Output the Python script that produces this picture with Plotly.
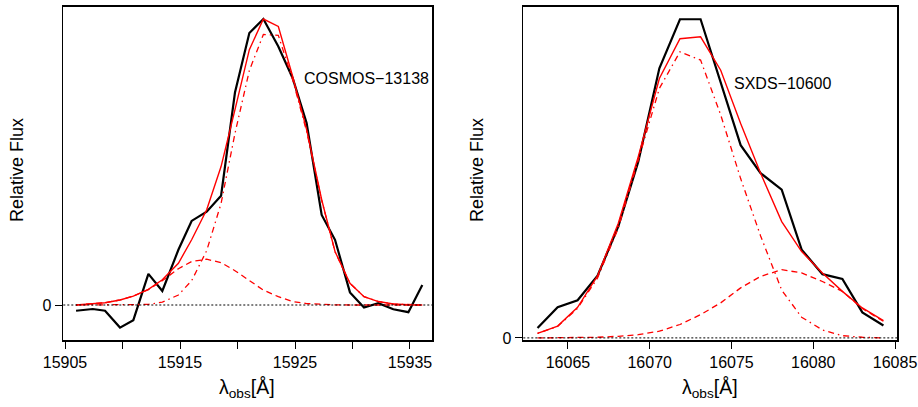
import plotly.graph_objects as go

# ---------------- data: left panel (COSMOS-13138) ----------------
wave_left = [15905.96, 15907.41, 15908.48, 15909.78, 15910.94, 15912.25, 15913.46,
             15914.86, 15916.01, 15917.32, 15918.57, 15919.78, 15921.03, 15922.25,
             15923.55, 15924.80, 15926.01, 15927.32, 15928.48, 15929.78, 15931.00,
             15932.25, 15933.55, 15934.86, 15936.07]
flux_left = [-0.020, -0.014, -0.020, -0.079, -0.053, 0.109, 0.049, 0.193, 0.294, 0.326,
             0.382, 0.743, 0.951, 1.000, 0.904, 0.793, 0.636, 0.315, 0.228, 0.044,
             -0.009, 0.006, -0.015, -0.025, 0.070]
fit_left = [0.0, 0.0035, 0.008, 0.0175, 0.031, 0.055, 0.088, 0.146, 0.228, 0.333,
            0.484, 0.683, 0.893, 1.000, 0.974, 0.799, 0.613, 0.368, 0.187, 0.076,
            0.029, 0.012, 0.0035, 0.001, 0.0]
broad_left = [0.0, 0.0035, 0.008, 0.0175, 0.031, 0.054, 0.085, 0.127, 0.152, 0.160,
              0.148, 0.120, 0.085, 0.052, 0.029, 0.012, 0.005, 0.002, 0.0005, 0.0,
              0.0, 0.0, 0.0, 0.0, 0.0]
narrow_left = [0.0, 0.0, 0.0, 0.0, 0.0, 0.002, 0.010, 0.035, 0.085, 0.190, 0.355,
               0.600, 0.820, 0.946, 0.943, 0.787, 0.607, 0.366, 0.186, 0.076, 0.029,
               0.012, 0.0035, 0.001, 0.0]
ticks_left = [15905, 15910, 15915, 15920, 15925, 15930, 15935]
ticklabels_left = ["15905", "", "15915", "", "15925", "", "15935"]
name_left = "COSMOS\u221213138"

# ---------------- data: right panel (SXDS-10600) ----------------
wave_right = [16063.14, 16064.37, 16065.59, 16066.81, 16068.08, 16069.30, 16070.59,
              16071.85, 16073.11, 16074.34, 16075.56, 16076.78, 16078.07, 16079.29,
              16080.56, 16081.78, 16083.00, 16084.29]
flux_right = [0.031, 0.096, 0.118, 0.195, 0.350, 0.553, 0.846, 1.000, 1.000, 0.799,
              0.605, 0.517, 0.465, 0.277, 0.200, 0.185, 0.080, 0.039]
fit_right = [0.014, 0.037, 0.096, 0.195, 0.360, 0.569, 0.814, 0.939, 0.945, 0.840,
             0.673, 0.517, 0.365, 0.271, 0.204, 0.146, 0.094, 0.054]
broad_right = [0.0, 0.0, 0.001, 0.002, 0.005, 0.010, 0.021, 0.042, 0.073, 0.110,
               0.157, 0.193, 0.214, 0.204, 0.177, 0.146, 0.092, 0.052]
narrow_right = [0.014, 0.036, 0.093, 0.188, 0.345, 0.560, 0.783, 0.898, 0.872, 0.700,
                0.500, 0.320, 0.150, 0.065, 0.025, 0.007, 0.002, 0.0]
ticks_right = [16065, 16070, 16075, 16080, 16085]
ticklabels_right = ["16065", "16070", "16075", "16080", "16085"]
name_right = "SXDS\u221210600"

ylabel = "Relative Flux"
xlabel = "\u03bb<sub>obs</sub>[\u00c5]"

FONT = "Liberation Sans, Arial, sans-serif"
W, H = 918, 407

fig = go.Figure()


def add_panel(xa, ya, wave, flux, fit, broad, narrow):
    fig.add_trace(go.Scatter(x=wave, y=flux, mode="lines", xaxis=xa, yaxis=ya,
                             line=dict(color="black", width=2.2), showlegend=False))
    fig.add_trace(go.Scatter(x=wave, y=broad, mode="lines", xaxis=xa, yaxis=ya,
                             line=dict(color="#ff0000", width=1.3, dash="6px,4px"),
                             showlegend=False))
    fig.add_trace(go.Scatter(x=wave, y=narrow, mode="lines", xaxis=xa, yaxis=ya,
                             line=dict(color="#ff0000", width=1.3, dash="1.5px,4px,6px,4px"),
                             showlegend=False))
    fig.add_trace(go.Scatter(x=wave, y=fit, mode="lines", xaxis=xa, yaxis=ya,
                             line=dict(color="#ff0000", width=1.4), showlegend=False))


add_panel("x", "y", wave_left, flux_left, fit_left, broad_left, narrow_left)
add_panel("x2", "y2", wave_right, flux_right, fit_right, broad_right, narrow_right)


def px(x):
    return x / W


def py(y):
    return 1 - y / H


ydom = [py(340), py(7)]
axis_common = dict(showgrid=False, zeroline=False, showline=True, mirror=True,
                   linecolor="black", linewidth=1.6, ticks="outside", ticklen=7,
                   tickwidth=1, tickcolor="black", automargin=False,
                   tickfont=dict(family=FONT, size=16, color="black"))

fig.update_layout(
    width=W, height=H,
    margin=dict(l=0, r=0, t=0, b=0, autoexpand=False),
    paper_bgcolor="white", plot_bgcolor="white",
    font=dict(family=FONT, size=16, color="black"),
    hovermode=False,
    xaxis=dict(domain=[px(63.3), px(432.3)], range=[15904.85, 15936.94],
               tickvals=ticks_left, ticktext=ticklabels_left, anchor="y", **axis_common),
    yaxis=dict(domain=ydom, range=[-0.1224, 1.042], tickvals=[0], ticktext=["0"],
               anchor="x", **axis_common),
    xaxis2=dict(domain=[px(523.3), px(897)], range=[16062.27, 16085.12],
                tickvals=ticks_right, ticktext=ticklabels_right, anchor="y2", **axis_common),
    yaxis2=dict(domain=ydom, range=[-0.0066, 1.0385], tickvals=[0], ticktext=["0"],
                anchor="x2", **axis_common),
)

# zero reference lines (dotted)
for xa, ya in (("x", "y"), ("x2", "y2")):
    fig.add_shape(type="line", xref=f"{xa} domain", yref=ya, x0=0, x1=1, y0=0, y1=0,
                  line=dict(color="black", width=1, dash="2px,2px"))

ann = []
ann.append(dict(text=name_left, x=px(302), y=py(78), xref="paper", yref="paper",
                xanchor="left", yanchor="middle", showarrow=False,
                font=dict(family=FONT, size=16, color="black")))
ann.append(dict(text=name_right, x=px(731.7), y=py(83.3), xref="paper", yref="paper",
                xanchor="left", yanchor="middle", showarrow=False,
                font=dict(family=FONT, size=16, color="black")))
for xc in (17, 477):
    ann.append(dict(text=ylabel, x=px(xc), y=py(170), xref="paper", yref="paper",
                    xanchor="center", yanchor="middle", textangle=-90, showarrow=False,
                    font=dict(family=FONT, size=18, color="black")))
for xc in (247, 710):
    ann.append(dict(text=xlabel, x=px(xc), y=py(388), xref="paper", yref="paper",
                    xanchor="center", yanchor="middle", showarrow=False,
                    font=dict(family=FONT, size=19.5, color="black")))
fig.update_layout(annotations=ann)

# remove the browser's default 8px body margin so the figure sits at the page origin
fig.write_html("out.html",
               config={"displayModeBar": False, "staticPlot": True},
               post_script="document.body.style.margin='0';document.body.style.overflow='hidden';")
